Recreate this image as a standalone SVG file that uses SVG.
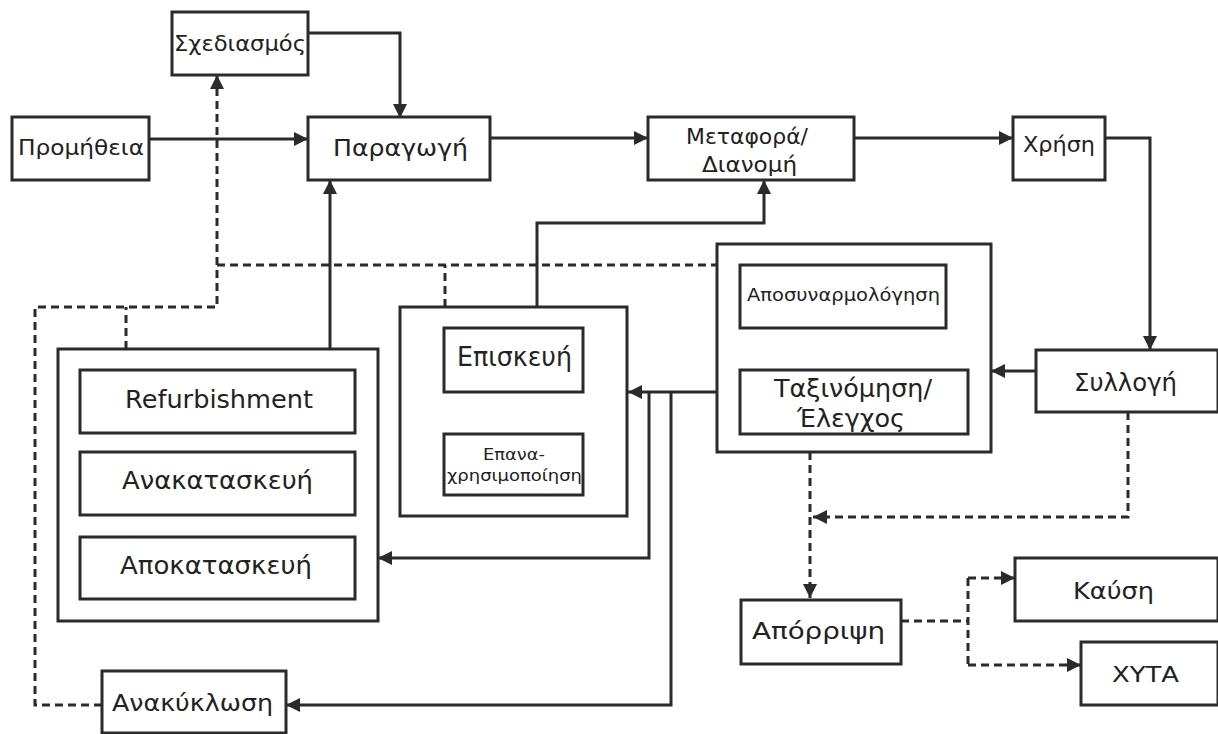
<svg xmlns="http://www.w3.org/2000/svg" width="1218" height="734" viewBox="0 0 1218 734">
  <style>
    .box { fill: #ffffff; stroke: #2b2b2b; stroke-width: 3; }
    .lbl { font-family: "DejaVu Sans", "Noto Sans", sans-serif; fill: #222222; text-anchor: start; }
    .solid { fill: none; stroke: #2b2b2b; stroke-width: 3; }
    .dash { fill: none; stroke: #2b2b2b; stroke-width: 3; stroke-dasharray: 8 5; }
  </style>
  <defs>
    <marker id="arrow" viewBox="0 0 12 12" refX="12" refY="6" markerWidth="14" markerHeight="14" markerUnits="userSpaceOnUse" orient="auto-start-reverse">
      <path d="M0,0 L12,6 L0,12 z" fill="#2b2b2b"/>
    </marker>
  </defs>
  <rect width="1218" height="734" fill="#ffffff"/>

  <!-- connectors -->
  <g id="connectors">
    <path class="solid" d="M308,33 H400 V118" marker-end="url(#arrow)"/>
    <path class="solid" d="M149,139 H308" marker-end="url(#arrow)"/>
    <path class="solid" d="M490,138 H648" marker-end="url(#arrow)"/>
    <path class="solid" d="M854,138 H1013" marker-end="url(#arrow)"/>
    <path class="solid" d="M1105,138 H1150 V350" marker-end="url(#arrow)"/>
    <path class="solid" d="M1036,371 H991" marker-end="url(#arrow)"/>
    <path class="solid" d="M855,329 V370" marker-start="url(#arrow)" marker-end="url(#arrow)"/>
    <path class="solid" d="M717,392 H628" marker-end="url(#arrow)"/>
    <path class="solid" d="M649,392 V558 H378" marker-end="url(#arrow)"/>
    <path class="solid" d="M671,392 V705 H286" marker-end="url(#arrow)"/>
    <path class="solid" d="M537,307 V223 H764 V180" marker-end="url(#arrow)"/>
    <path class="solid" d="M330,349 V180" marker-end="url(#arrow)"/>

    <path class="dash" d="M102,705 H35 V307 H217 V75" marker-end="url(#arrow)"/>
    <path class="dash" d="M217,265 H717"/>
    <path class="dash" d="M126,349 V307"/>
    <path class="dash" d="M445,307 V265"/>
    <path class="dash" d="M1128,412 V517 H813" marker-end="url(#arrow)"/>
    <path class="dash" d="M810,452 V598" marker-end="url(#arrow)"/>
    <path class="dash" d="M901,621 H968"/>
    <path class="dash" d="M968,578 V665"/>
    <path class="dash" d="M968,578 H1015" marker-end="url(#arrow)"/>
    <path class="dash" d="M968,665 H1081" marker-end="url(#arrow)"/>
  </g>

  <!-- nodes -->
  <g id="sxediasmos">
    <rect class="box" x="172" y="12" width="136" height="63"/>
    <text class="lbl" x="174" y="51" font-size="22" textLength="132" lengthAdjust="spacingAndGlyphs">Σχεδιασμός</text>
  </g>
  <g id="promitheia">
    <rect class="box" x="12" y="117" width="137" height="63"/>
    <text class="lbl" x="18" y="155" font-size="22" textLength="126" lengthAdjust="spacingAndGlyphs">Προμήθεια</text>
  </g>
  <g id="paragogi">
    <rect class="box" x="308" y="117" width="182" height="63"/>
    <text class="lbl" x="333" y="156" font-size="23" textLength="135" lengthAdjust="spacingAndGlyphs">Παραγωγή</text>
  </g>
  <g id="metafora">
    <rect class="box" x="648" y="117" width="206" height="63"/>
    <text class="lbl" x="686" y="144" font-size="21" textLength="122" lengthAdjust="spacingAndGlyphs">Μεταφορά/</text>
    <text class="lbl" x="702" y="172" font-size="21" textLength="95" lengthAdjust="spacingAndGlyphs">Διανομή</text>
  </g>
  <g id="xrisi">
    <rect class="box" x="1013" y="117" width="92" height="63"/>
    <text class="lbl" x="1023" y="152" font-size="21" textLength="72" lengthAdjust="spacingAndGlyphs">Χρήση</text>
  </g>

  <g id="anakataskevi-group">
    <rect class="box" x="58" y="349" width="320" height="272"/>
  </g>
  <g id="refurbishment">
    <rect class="box" x="80" y="370" width="275" height="63"/>
    <text class="lbl" x="125" y="408" font-size="24" textLength="188" lengthAdjust="spacingAndGlyphs">Refurbishment</text>
  </g>
  <g id="anakataskevi">
    <rect class="box" x="80" y="452" width="275" height="63"/>
    <text class="lbl" x="122" y="489" font-size="25" textLength="191" lengthAdjust="spacingAndGlyphs">Ανακατασκευή</text>
  </g>
  <g id="apokataskevi">
    <rect class="box" x="80" y="537" width="275" height="62"/>
    <text class="lbl" x="120" y="574" font-size="25" textLength="192" lengthAdjust="spacingAndGlyphs">Αποκατασκευή</text>
  </g>

  <g id="episkevi-group">
    <rect class="box" x="400" y="307" width="227" height="209"/>
  </g>
  <g id="episkevi">
    <rect class="box" x="444" y="328" width="139" height="64"/>
    <text class="lbl" x="457" y="366" font-size="26" textLength="115" lengthAdjust="spacingAndGlyphs">Επισκευή</text>
  </g>
  <g id="epanaxrisimopoiisi">
    <rect class="box" x="444" y="434" width="139" height="61"/>
    <text class="lbl" x="483" y="460" font-size="16" textLength="62" lengthAdjust="spacingAndGlyphs">Επανα-</text>
    <text class="lbl" x="447" y="481" font-size="16" textLength="135" lengthAdjust="spacingAndGlyphs">χρησιμοποίηση</text>
  </g>

  <g id="diaxeirisi-group">
    <rect class="box" x="717" y="244" width="274" height="208"/>
  </g>
  <g id="aposynarmologisi">
    <rect class="box" x="740" y="265" width="206" height="63"/>
    <text class="lbl" x="747" y="301" font-size="17" textLength="193" lengthAdjust="spacingAndGlyphs">Αποσυναρμολόγηση</text>
  </g>
  <g id="taxinomisi">
    <rect class="box" x="740" y="370" width="228" height="64"/>
    <text class="lbl" x="774" y="397" font-size="25" textLength="158" lengthAdjust="spacingAndGlyphs">Ταξινόμηση/</text>
    <text class="lbl" x="797" y="427" font-size="25" textLength="108" lengthAdjust="spacingAndGlyphs">Έλεγχος</text>
  </g>
  <g id="syllogi">
    <rect class="box" x="1036" y="350" width="182" height="62"/>
    <text class="lbl" x="1074" y="391" font-size="24" textLength="103" lengthAdjust="spacingAndGlyphs">Συλλογή</text>
  </g>

  <g id="aporripsi">
    <rect class="box" x="741" y="600" width="160" height="64"/>
    <text class="lbl" x="752" y="639" font-size="23" textLength="133" lengthAdjust="spacingAndGlyphs">Απόρριψη</text>
  </g>
  <g id="kafsi">
    <rect class="box" x="1015" y="558" width="203" height="63"/>
    <text class="lbl" x="1073" y="599" font-size="23" textLength="81" lengthAdjust="spacingAndGlyphs">Καύση</text>
  </g>
  <g id="xyta">
    <rect class="box" x="1081" y="642" width="137" height="63"/>
    <text class="lbl" x="1112" y="682" font-size="22" textLength="67" lengthAdjust="spacingAndGlyphs">ΧΥΤΑ</text>
  </g>
  <g id="anakyklosi">
    <rect class="box" x="102" y="671" width="184" height="62"/>
    <text class="lbl" x="112" y="711" font-size="23" textLength="161" lengthAdjust="spacingAndGlyphs">Ανακύκλωση</text>
  </g>
</svg>
